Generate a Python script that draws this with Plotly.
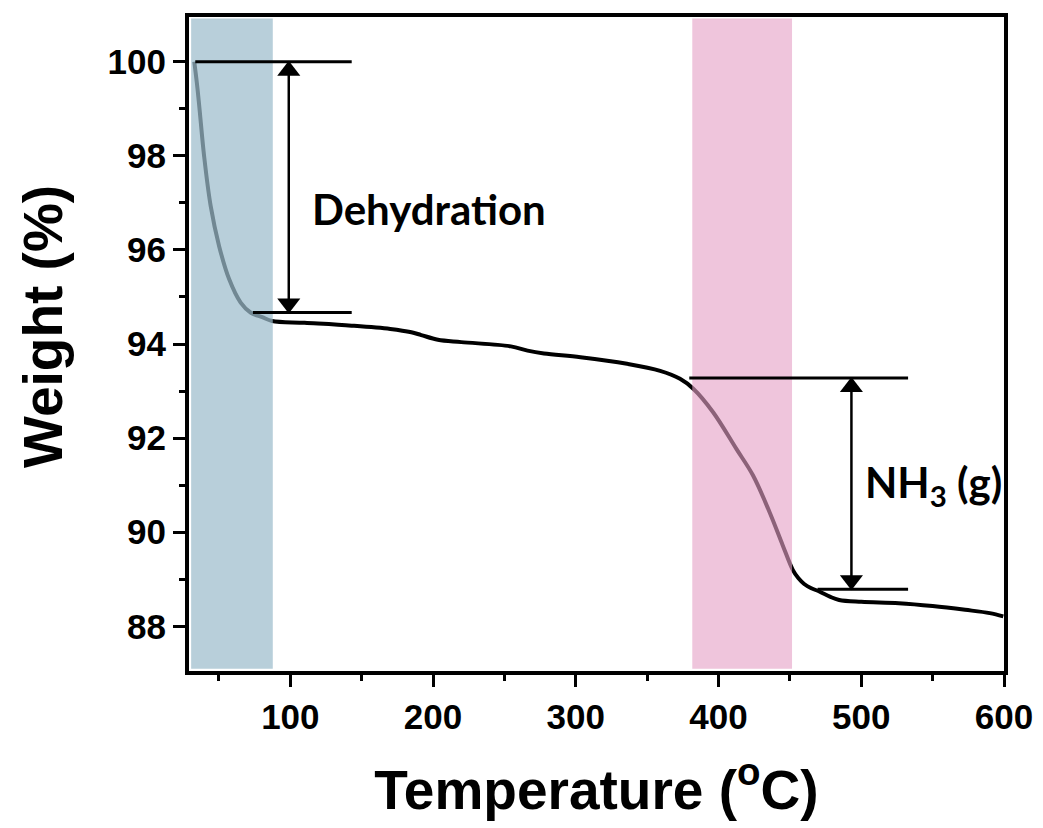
import plotly.graph_objects as go

# TGA curve
temperature = [32.7, 34.5, 36.2, 39.6, 44.2, 50.1, 57.1, 65.2, 72.1, 80.3, 87.2,
               110.0, 143.0, 170.0, 184.8, 191.7, 203.4, 219.7, 254.5, 266.2, 277.7,
               303.3, 335.9, 359.1, 373.0, 382.3, 396.2, 412.5, 424.1, 435.7, 445.0,
               452.0, 456.0, 460.0, 465.0, 470.6, 478.0, 484.5, 500.0, 526.3, 550.0,
               572.8, 590.0, 599.5]
weight = [100.0, 99.55, 99.05, 97.99, 96.93, 96.08, 95.38, 94.88, 94.67, 94.57, 94.49,
          94.45, 94.39, 94.32, 94.25, 94.19, 94.09, 94.04, 93.95, 93.86, 93.80,
          93.72, 93.58, 93.43, 93.26, 93.05, 92.55, 91.77, 91.21, 90.43, 89.72,
          89.20, 89.02, 88.90, 88.81, 88.74, 88.63, 88.56, 88.52, 88.49, 88.43,
          88.35, 88.28, 88.21]

x_range = [29, 600]
y_range = [87.05, 100.95]

# shaded regions (temperature spans)
blue_span = [30.5, 87.7]
pink_span = [381.6, 451.5]

# reference levels and brackets
dehyd_top, dehyd_bottom = 100.0, 94.67
dehyd_line_top_x = [33.4, 143.0]
dehyd_line_bottom_x = [73.8, 143.0]
dehyd_arrow_x = 98.9

nh3_top, nh3_bottom = 93.28, 88.79
nh3_line_top_x = [379.5, 532.8]
nh3_line_bottom_x = [469.4, 532.8]
nh3_arrow_x = 493.1

W, H = 1043, 828
M = dict(l=189, r=39, t=17, b=157)
plot_h = H - M["t"] - M["b"]
plot_w = W - M["l"] - M["r"]
px_per_y = plot_h / (y_range[1] - y_range[0])
head_px = 20
head_off = (head_px * 0.45) / px_per_y

fig = go.Figure()
fig.add_trace(go.Scatter(x=temperature, y=weight, mode="lines",
                         line=dict(color="black", width=4, shape="spline", smoothing=1.0),
                         showlegend=False, hoverinfo="skip"))

shapes = []
for span, col, op in [(blue_span, "#9cbccc", 0.72), (pink_span, "#e5a1c5", 0.61)]:
    shapes.append(dict(type="rect", xref="x", yref="y", x0=span[0], x1=span[1],
                       y0=87.1, y1=100.92, fillcolor=col, opacity=op,
                       line=dict(width=0), layer="above"))
for xs, yv in [(dehyd_line_top_x, dehyd_top), (dehyd_line_bottom_x, dehyd_bottom),
               (nh3_line_top_x, nh3_top), (nh3_line_bottom_x, nh3_bottom)]:
    shapes.append(dict(type="line", xref="x", yref="y", x0=xs[0], x1=xs[1],
                       y0=yv, y1=yv, line=dict(color="black", width=3), layer="above"))
# arrow shafts
for ax_x, y0, y1 in [(dehyd_arrow_x, dehyd_bottom, dehyd_top), (nh3_arrow_x, nh3_bottom, nh3_top)]:
    shapes.append(dict(type="line", xref="x", yref="y", x0=ax_x, x1=ax_x,
                       y0=y0 + head_off, y1=y1 - head_off,
                       line=dict(color="black", width=2.5), layer="above"))
fig.update_layout(shapes=shapes)

# arrow heads
head_x = [dehyd_arrow_x, dehyd_arrow_x, nh3_arrow_x, nh3_arrow_x]
head_y = [dehyd_top - head_off, dehyd_bottom + head_off, nh3_top - head_off, nh3_bottom + head_off]
head_sym = ["triangle-up", "triangle-down", "triangle-up", "triangle-down"]
fig.add_trace(go.Scatter(x=head_x, y=head_y, mode="markers",
                         marker=dict(symbol=head_sym, size=head_px, color="black", line=dict(width=0)),
                         showlegend=False, hoverinfo="skip"))

label_font = dict(family="Lato", size=42, color="black", weight="bold")
annotations = [
    dict(x=197.0, y=96.86, xref="x", yref="y", text="Dehydration",
         showarrow=False, font=label_font),
    dict(x=550.7, y=91.0, xref="x", yref="y", text="NH<sub>3</sub> (g)",
         showarrow=False, font=label_font),
]

tick_font = dict(family="Liberation Sans, Arial", size=35, color="black", weight="bold")
title_font = dict(family="Liberation Sans, Arial", size=55, color="black", weight="bold")

annotations.append(dict(x=(43 - M["l"]) / plot_w, y=(H - M["b"] - 327) / plot_h,
                        xref="paper", yref="paper", text="Weight (%)", textangle=-90,
                        showarrow=False, xanchor="center", yanchor="middle", font=title_font))
fig.update_layout(annotations=annotations)

fig.update_xaxes(range=x_range, showline=True, linewidth=4, linecolor="black", mirror=True,
                 ticks="outside", ticklen=12, tickwidth=3, tickcolor="black",
                 tick0=0, dtick=100, tickfont=tick_font, showgrid=False, zeroline=False,
                 minor=dict(ticks="outside", dtick=50, ticklen=6, tickwidth=3, tickcolor="black", showgrid=False),
                 title=dict(text="Temperature (<sup>o</sup>C)", font=title_font, standoff=36))
fig.update_yaxes(range=y_range, showline=True, linewidth=4, linecolor="black", mirror=True,
                 ticks="outside", ticklen=12, tickwidth=3, tickcolor="black",
                 tick0=0, dtick=2, tickfont=tick_font, showgrid=False, zeroline=False,
                 minor=dict(ticks="outside", dtick=1, ticklen=6, tickwidth=3, tickcolor="black", showgrid=False))

fig.update_layout(width=W, height=H, plot_bgcolor="white", paper_bgcolor="white",
                  margin=dict(l=M["l"], r=M["r"], t=M["t"], b=M["b"], autoexpand=False))

fig.write_html("out.html")
